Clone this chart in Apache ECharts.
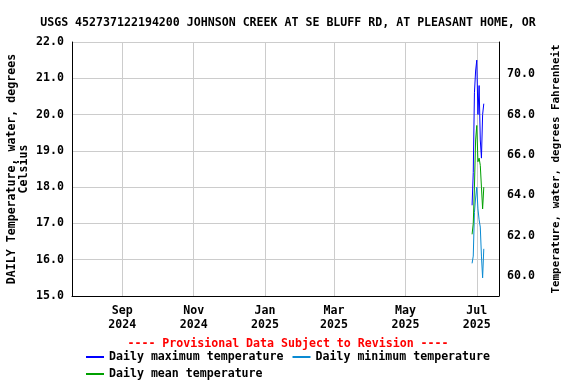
<!DOCTYPE html>
<html><head><meta charset="utf-8">
<script src="https://cdn.jsdelivr.net/npm/echarts@6/dist/echarts.min.js"></script>
<style>html,body{margin:0;padding:0;background:#fff}#c{width:576px;height:384px}</style>
</head><body><div id="c"></div>
<script>
const titleText = 'USGS 452737122194200 JOHNSON CREEK AT SE BLUFF RD, AT PLEASANT HOME, OR';
const dates = ['2025-06-27','2025-06-28','2025-06-29','2025-06-30','2025-07-01','2025-07-02','2025-07-03','2025-07-04','2025-07-05','2025-07-06','2025-07-07'];
const maxTemp  = [17.5, 18.4, 20.6, 21.2, 21.5, 20.0, 20.8, 19.3, 18.8, 20.0, 20.3];
const minTemp  = [15.9, 16.1, 17.3, 17.7, 18.0, 17.4, 17.1, 16.9, 16.1, 15.5, 16.3];
const meanTemp = [16.7, 17.0, 18.0, 19.3, 19.7, 18.7, 18.8, 18.6, 18.0, 17.4, 18.0];
const xTickDates = ['2024-09-01','2024-11-01','2025-01-01','2025-03-01','2025-05-01','2025-07-01'];
const xMinDate = '2024-07-20', xMaxDate = '2025-07-20';
const fTicks = [60, 62, 64, 66, 68, 70];
const monthNames = ['Jan','Feb','Mar','Apr','May','Jun','Jul','Aug','Sep','Oct','Nov','Dec'];

const ts = s => { const p = s.split('-').map(Number); return Date.UTC(p[0], p[1]-1, p[2]); };
const FONT = 'DejaVu Sans Mono';
const txt = {fontFamily: FONT, fontWeight: 'bold', fontSize: 11.6, color: '#000'};
const pair = arr => dates.map((d, i) => [ts(d), arr[i]]);

const chart = echarts.init(document.getElementById('c'));
chart.setOption({
  animation: false,
  backgroundColor: '#fff',
  title: {text: titleText, left: 'center', top: 12, textStyle: Object.assign({}, txt)},
  grid: {left: 72, right: 77, top: 42, bottom: 88, containLabel: false, outerBoundsMode: 'none'},
  xAxis: {
    type: 'value', min: ts(xMinDate), max: ts(xMaxDate),
    axisLine: {show: true, lineStyle: {color: '#000'}},
    axisTick: {show: false, customValues: xTickDates.map(ts)},
    splitLine: {show: true, lineStyle: {color: '#cccccc'}},
    axisLabel: Object.assign({}, txt, {
      customValues: xTickDates.map(ts), margin: 8, lineHeight: 14,
      formatter: v => { const d = new Date(v); return monthNames[d.getUTCMonth()] + '\n' + d.getUTCFullYear(); }
    })
  },
  yAxis: [{
    type: 'value', min: 15, max: 22, interval: 1, position: 'left',
    name: 'DAILY Temperature, water, degrees\nCelsius', nameLocation: 'middle', nameGap: 42, nameRotate: 90,
    nameMoveOverlap: false,
    nameTextStyle: Object.assign({}, txt, {lineHeight: 12}),
    axisLine: {show: true, lineStyle: {color: '#000'}},
    axisTick: {show: false},
    splitLine: {show: true, lineStyle: {color: '#cccccc'}},
    axisLabel: Object.assign({}, txt, {margin: 8, formatter: v => v.toFixed(1)})
  }, {
    type: 'value', min: 15*1.8+32, max: 22*1.8+32, position: 'right',
    name: 'Temperature, water, degrees Fahrenheit', nameLocation: 'middle', nameGap: 52, nameRotate: 90,
    nameMoveOverlap: false,
    nameTextStyle: Object.assign({}, txt, {fontSize: 10.9}),
    axisLine: {show: true, lineStyle: {color: '#000'}},
    axisTick: {show: false, customValues: fTicks},
    splitLine: {show: false},
    axisLabel: Object.assign({}, txt, {margin: 8, customValues: fTicks, formatter: v => v.toFixed(1)})
  }],
  graphic: [{
    type: 'text', left: 'center', top: 338,
    style: {text: '---- Provisional Data Subject to Revision ----', fill: '#ff0000',
      font: 'bold 11.6px "DejaVu Sans Mono"'}
  }],
  legend: [{
    data: ['Daily maximum temperature', 'Daily minimum temperature'],
    left: 81, top: 346, itemWidth: 18, itemHeight: 2, icon: 'rect', itemGap: 9,
    textStyle: Object.assign({}, txt)
  }, {
    data: ['Daily mean temperature'],
    left: 81, top: 363, itemWidth: 18, itemHeight: 2, icon: 'rect',
    textStyle: Object.assign({}, txt)
  }],
  series: [
    {name: 'Daily maximum temperature', type: 'line', data: pair(maxTemp), showSymbol: false,
     color: '#0000ff', lineStyle: {width: 1}},
    {name: 'Daily minimum temperature', type: 'line', data: pair(minTemp), showSymbol: false,
     color: '#0a8ad2', lineStyle: {width: 1}},
    {name: 'Daily mean temperature', type: 'line', data: pair(meanTemp), showSymbol: false,
     color: '#00a000', lineStyle: {width: 1}}
  ]
});
</script></body></html>
